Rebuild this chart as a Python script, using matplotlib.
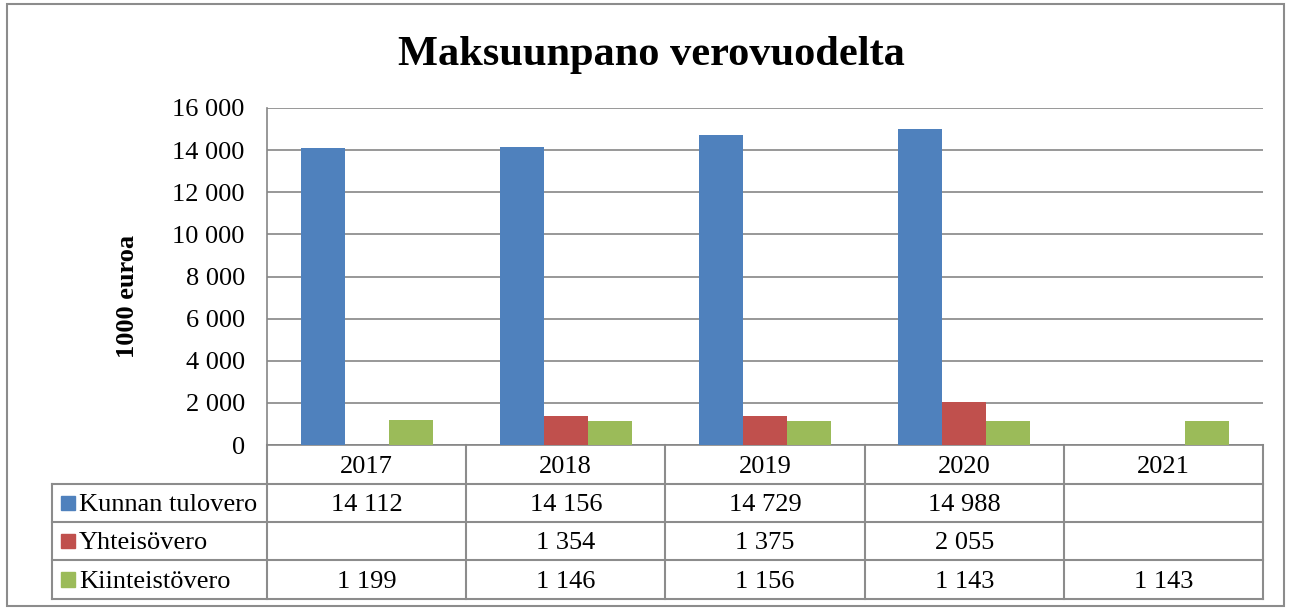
import numpy as np
import matplotlib.pyplot as plt
from matplotlib.patches import Rectangle

# Data
years = ["2017", "2018", "2019", "2020", "2021"]
series_names = ["Kunnan tulovero", "Yhteisövero", "Kiinteistövero"]
kunnan_tulovero = [14112, 14156, 14729, 14988, None]
yhteisovero = [None, 1354, 1375, 2055, None]
kiinteistovero = [1199, 1146, 1156, 1143, 1143]
colors = ["#4F81BD", "#C0504D", "#9BBB59"]

plt.rcParams["font.family"] = ["Liberation Serif", "DejaVu Serif"]

fig = plt.figure(figsize=(12.91, 6.08), dpi=100)
left_px, right_px = 267, 1263
ax = fig.add_axes([left_px / 1291, 1 - 445 / 608, (right_px - left_px) / 1291, (445 - 108) / 608])
cat_px = (right_px - left_px) / len(years)

series = [kunnan_tulovero, yhteisovero, kiinteistovero]
x = np.arange(len(years))
w = 44 / cat_px
grid_col = "#868686"

for i, (vals, c) in enumerate(zip(series, colors)):
    xs = [xi + (i - 1) * w for xi, v in zip(x, vals) if v is not None]
    hs = [v for v in vals if v is not None]
    ax.bar(xs, hs, width=w, color=c, zorder=3)

ax.set_xlim(-0.5, len(years) - 0.5)
ax.set_ylim(0, 16000)
ax.set_yticks(range(0, 16001, 2000))
ax.set_yticklabels([f"{v:,}".replace(",", " ") for v in range(0, 16001, 2000)], fontsize=19)
ax.set_xticks([])
ax.tick_params(axis="y", length=0, pad=16)
ax.yaxis.grid(True, color=grid_col, linewidth=1.2, zorder=0)
for s in ["top", "right"]:
    ax.spines[s].set_visible(False)
for s in ["left", "bottom"]:
    ax.spines[s].set_color(grid_col)
    ax.spines[s].set_linewidth(1.2)

# Data table under the chart
trans = ax.get_xaxis_transform()
tab_col = "#8C8C8C"
label_left = -0.5 - (left_px - 52) / cat_px
row_y = [0, -0.1157, -0.2285, -0.3412, -0.457]
txt_shift = -0.007
line_kw = dict(color=tab_col, linewidth=1.5, transform=trans, clip_on=False)

for b in np.arange(-0.5, len(years), 1.0):
    ax.plot([b, b], [row_y[0], row_y[-1]], **line_kw)
ax.plot([label_left, label_left], [row_y[1], row_y[-1]], **line_kw)
for yy in row_y[1:]:
    ax.plot([label_left, len(years) - 0.5], [yy, yy], **line_kw)

for xi, yr in zip(x, years):
    ax.text(xi, (row_y[0] + row_y[1]) / 2 + txt_shift, yr, transform=trans,
            ha="center", va="center", fontsize=19)

sq_w = 14 / cat_px
for r, (name, vals, c) in enumerate(zip(series_names, series, colors)):
    yc = (row_y[r + 1] + row_y[r + 2]) / 2
    ax.add_patch(Rectangle((label_left + 9 / cat_px, yc - 0.021), sq_w, 0.042,
                           transform=trans, color=c, clip_on=False))
    ax.text(label_left + 27 / cat_px, yc + txt_shift, name, transform=trans,
            ha="left", va="center", fontsize=19)
    for xi, v in zip(x, vals):
        if v is not None:
            ax.text(xi, yc + txt_shift, f"{v:,}".replace(",", " "), transform=trans,
                    ha="center", va="center", fontsize=19)

fig.text(651 / 1291, 1 - 55 / 608, "Maksuunpano verovuodelta", ha="center", va="center",
         fontsize=30.5, fontweight="bold")
fig.text(128 / 1291, 1 - 296 / 608, "1000 euroa", ha="center", va="center",
         rotation=90, fontsize=19, fontweight="bold")

fig.patches.append(Rectangle((7 / 1291, 2 / 608), 1277 / 1291, 602 / 608, transform=fig.transFigure,
                             fill=False, edgecolor="#8C8C8C", linewidth=1.5))

fig.savefig("out.png", dpi=100)
